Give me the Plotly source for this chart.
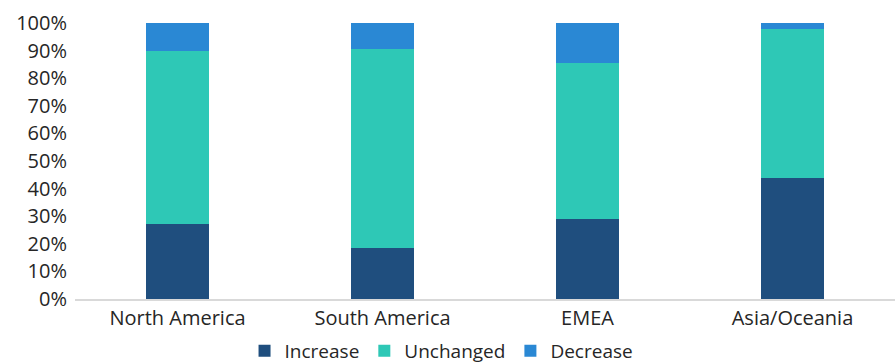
import plotly.graph_objects as go

categories = ["North America", "South America", "EMEA", "Asia/Oceania"]
increase = [0.273, 0.184, 0.290, 0.440]
unchanged = [0.627, 0.722, 0.565, 0.538]
decrease = [0.100, 0.094, 0.145, 0.022]

series = [
    ("Increase", increase, "#1f4e7e"),
    ("Unchanged", unchanged, "#2ec8b6"),
    ("Decrease", decrease, "#2a88d4"),
]

fig = go.Figure()
for name, vals, color in series:
    fig.add_trace(go.Bar(
        x=categories, y=vals, name=name,
        marker=dict(color=color, line=dict(width=0)),
    ))

fig.update_layout(
    barmode="stack",
    bargap=0.69,
    width=896, height=364,
    margin=dict(l=75, r=1, t=23, b=65, autoexpand=False),
    plot_bgcolor="white",
    paper_bgcolor="white",
    font=dict(family="Open Sans", size=20, color="#262626"),
    showlegend=True,
    legend=dict(
        orientation="h", x=0.447, xanchor="center", y=-0.188, yanchor="middle",
        font=dict(size=19), traceorder="normal",
        itemwidth=30,
    ),
    xaxis=dict(
        showline=True, linecolor="#d9d9d9", linewidth=2,
        ticks="", showgrid=False,
    ),
    yaxis=dict(
        range=[0, 1], tickformat=".0%", dtick=0.1,
        showgrid=False, zeroline=False, showline=False,
        ticks="", ticklabelstandoff=7,
    ),
)

fig.write_html("out.html")
